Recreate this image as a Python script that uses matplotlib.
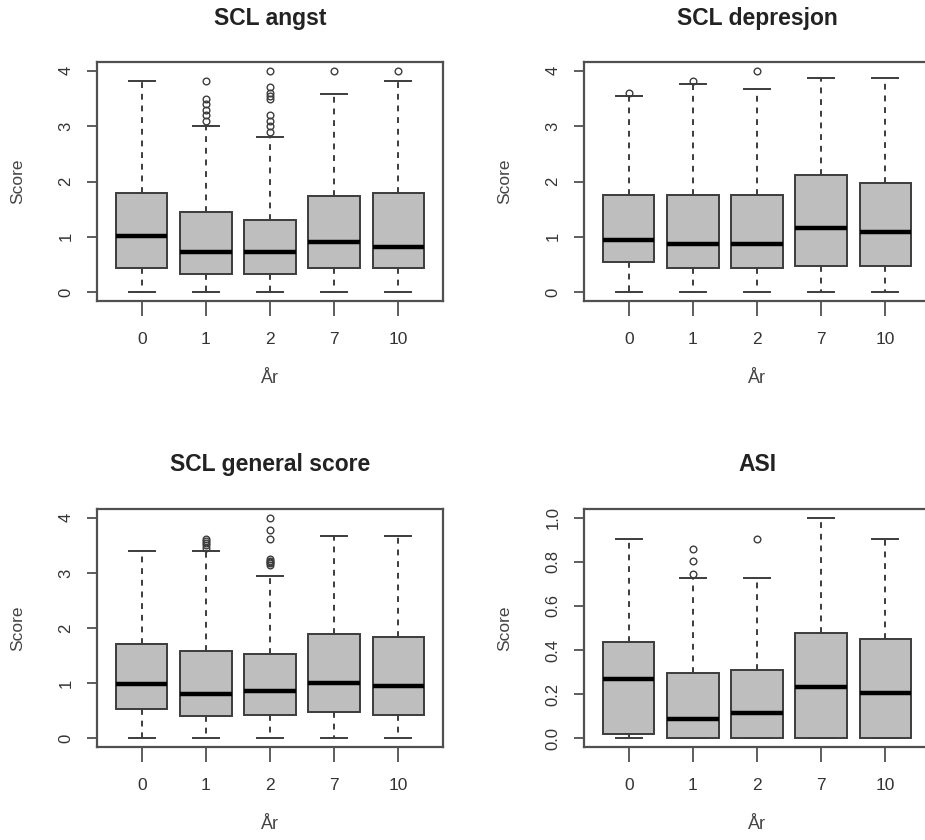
import matplotlib
matplotlib.use('Agg')
import matplotlib.pyplot as plt

plt.rcParams['font.family'] = ['Liberation Sans', 'DejaVu Sans']

years = ['0', '1', '2', '7', '10']

# SCL angst
angst_lo = [0, 0, 0, 0, 0]
angst_q1 = [0.43, 0.32, 0.32, 0.43, 0.43]
angst_med = [1.01, 0.73, 0.73, 0.91, 0.82]
angst_q3 = [1.80, 1.44, 1.31, 1.73, 1.80]
angst_hi = [3.81, 3.0, 2.80, 3.59, 3.81]
angst_out = [[], [3.1, 3.2, 3.3, 3.4, 3.5, 3.81],
             [2.9, 3.0, 3.1, 3.2, 3.5, 3.55, 3.6, 3.7, 4.0], [4.0], [4.0]]

# SCL depresjon
dep_lo = [0, 0, 0, 0, 0]
dep_q1 = [0.54, 0.43, 0.43, 0.48, 0.48]
dep_med = [0.95, 0.87, 0.87, 1.16, 1.09]
dep_q3 = [1.76, 1.76, 1.76, 2.11, 1.97]
dep_hi = [3.55, 3.76, 3.67, 3.87, 3.87]
dep_out = [[3.6], [3.81], [4.0], [], []]

# SCL general score
gen_lo = [0, 0, 0, 0, 0]
gen_q1 = [0.53, 0.41, 0.42, 0.47, 0.42]
gen_med = [0.99, 0.80, 0.85, 1.01, 0.94]
gen_q3 = [1.71, 1.59, 1.52, 1.89, 1.84]
gen_hi = [3.39, 3.39, 2.95, 3.67, 3.67]
gen_out = [[], [3.45, 3.5, 3.55, 3.58, 3.62],
           [3.15, 3.18, 3.2, 3.22, 3.25, 3.62, 3.78, 4.0], [], []]

# ASI
asi_lo = [0, 0, 0, 0, 0]
asi_q1 = [0.018, 0, 0, 0, 0]
asi_med = [0.268, 0.089, 0.114, 0.23, 0.205]
asi_q3 = [0.435, 0.295, 0.31, 0.476, 0.45]
asi_hi = [0.905, 0.726, 0.726, 1.0, 0.905]
asi_out = [[], [0.745, 0.806, 0.86], [0.905], [], []]


def make_stats(lo, q1, med, q3, hi, out):
    return [dict(whislo=lo[i], q1=q1[i], med=med[i], q3=q3[i], whishi=hi[i],
                 fliers=out[i], label=years[i]) for i in range(len(years))]


def draw_panel(ax, stats, title, yticks, ylim, yfmt):
    edge = '#3c3c3c'
    ax.bxp(stats, positions=range(1, 6), widths=0.8, capwidths=0.4,
           patch_artist=True,
           boxprops=dict(facecolor='#bebebe', edgecolor=edge, linewidth=1.4),
           medianprops=dict(color='black', linewidth=3.2, solid_capstyle='butt'),
           whiskerprops=dict(color=edge, linewidth=1.4, linestyle=(0, (3, 3))),
           capprops=dict(color=edge, linewidth=1.4),
           flierprops=dict(marker='o', markerfacecolor='none',
                           markeredgecolor=edge, markersize=4.8,
                           markeredgewidth=1.0))
    ax.set_xlim(0.3, 5.7)
    ax.set_ylim(*ylim)
    ax.set_yticks(yticks)
    ax.set_yticklabels([yfmt.format(v) for v in yticks], rotation=90,
                       va='center', fontsize=12)
    ax.set_xticks(range(1, 6))
    ax.set_xticklabels(years, fontsize=12.5)
    for sp in ax.spines.values():
        sp.set_color('#505050')
        sp.set_linewidth(1.6)
    ax.tick_params(axis='y', length=7, width=1.3, color='#505050', pad=10,
                   labelcolor='#333333')
    ax.tick_params(axis='x', length=11, width=1.3, color='#505050', pad=11,
                   labelcolor='#333333')
    ax.set_title(title, fontsize=16.5, fontweight='bold', pad=27,
                 color='#222222')
    ax.set_xlabel('År', fontsize=13, color='#444444', labelpad=17)
    ax.set_ylabel('Score', fontsize=12.5, color='#444444', labelpad=24)


fig = plt.figure(figsize=(9.25, 8.4), dpi=100)
W, H = 925.0, 840.0
aw = 346 / W
ax1 = fig.add_axes([97 / W, 1 - 301 / H, aw, 239 / H])
ax2 = fig.add_axes([584 / W, 1 - 301 / H, aw, 239 / H])
ax3 = fig.add_axes([97 / W, 1 - 747 / H, aw, 238 / H])
ax4 = fig.add_axes([584 / W, 1 - 747 / H, aw, 238 / H])

draw_panel(ax1, make_stats(angst_lo, angst_q1, angst_med, angst_q3, angst_hi, angst_out),
           'SCL angst', [0, 1, 2, 3, 4], (-0.16, 4.16), '{:g}')
draw_panel(ax2, make_stats(dep_lo, dep_q1, dep_med, dep_q3, dep_hi, dep_out),
           'SCL depresjon', [0, 1, 2, 3, 4], (-0.16, 4.16), '{:g}')
draw_panel(ax3, make_stats(gen_lo, gen_q1, gen_med, gen_q3, gen_hi, gen_out),
           'SCL general score', [0, 1, 2, 3, 4], (-0.16, 4.16), '{:g}')
draw_panel(ax4, make_stats(asi_lo, asi_q1, asi_med, asi_q3, asi_hi, asi_out),
           'ASI', [0, 0.2, 0.4, 0.6, 0.8, 1.0], (-0.04, 1.04), '{:.1f}')

fig.savefig('out.png', dpi=100)
